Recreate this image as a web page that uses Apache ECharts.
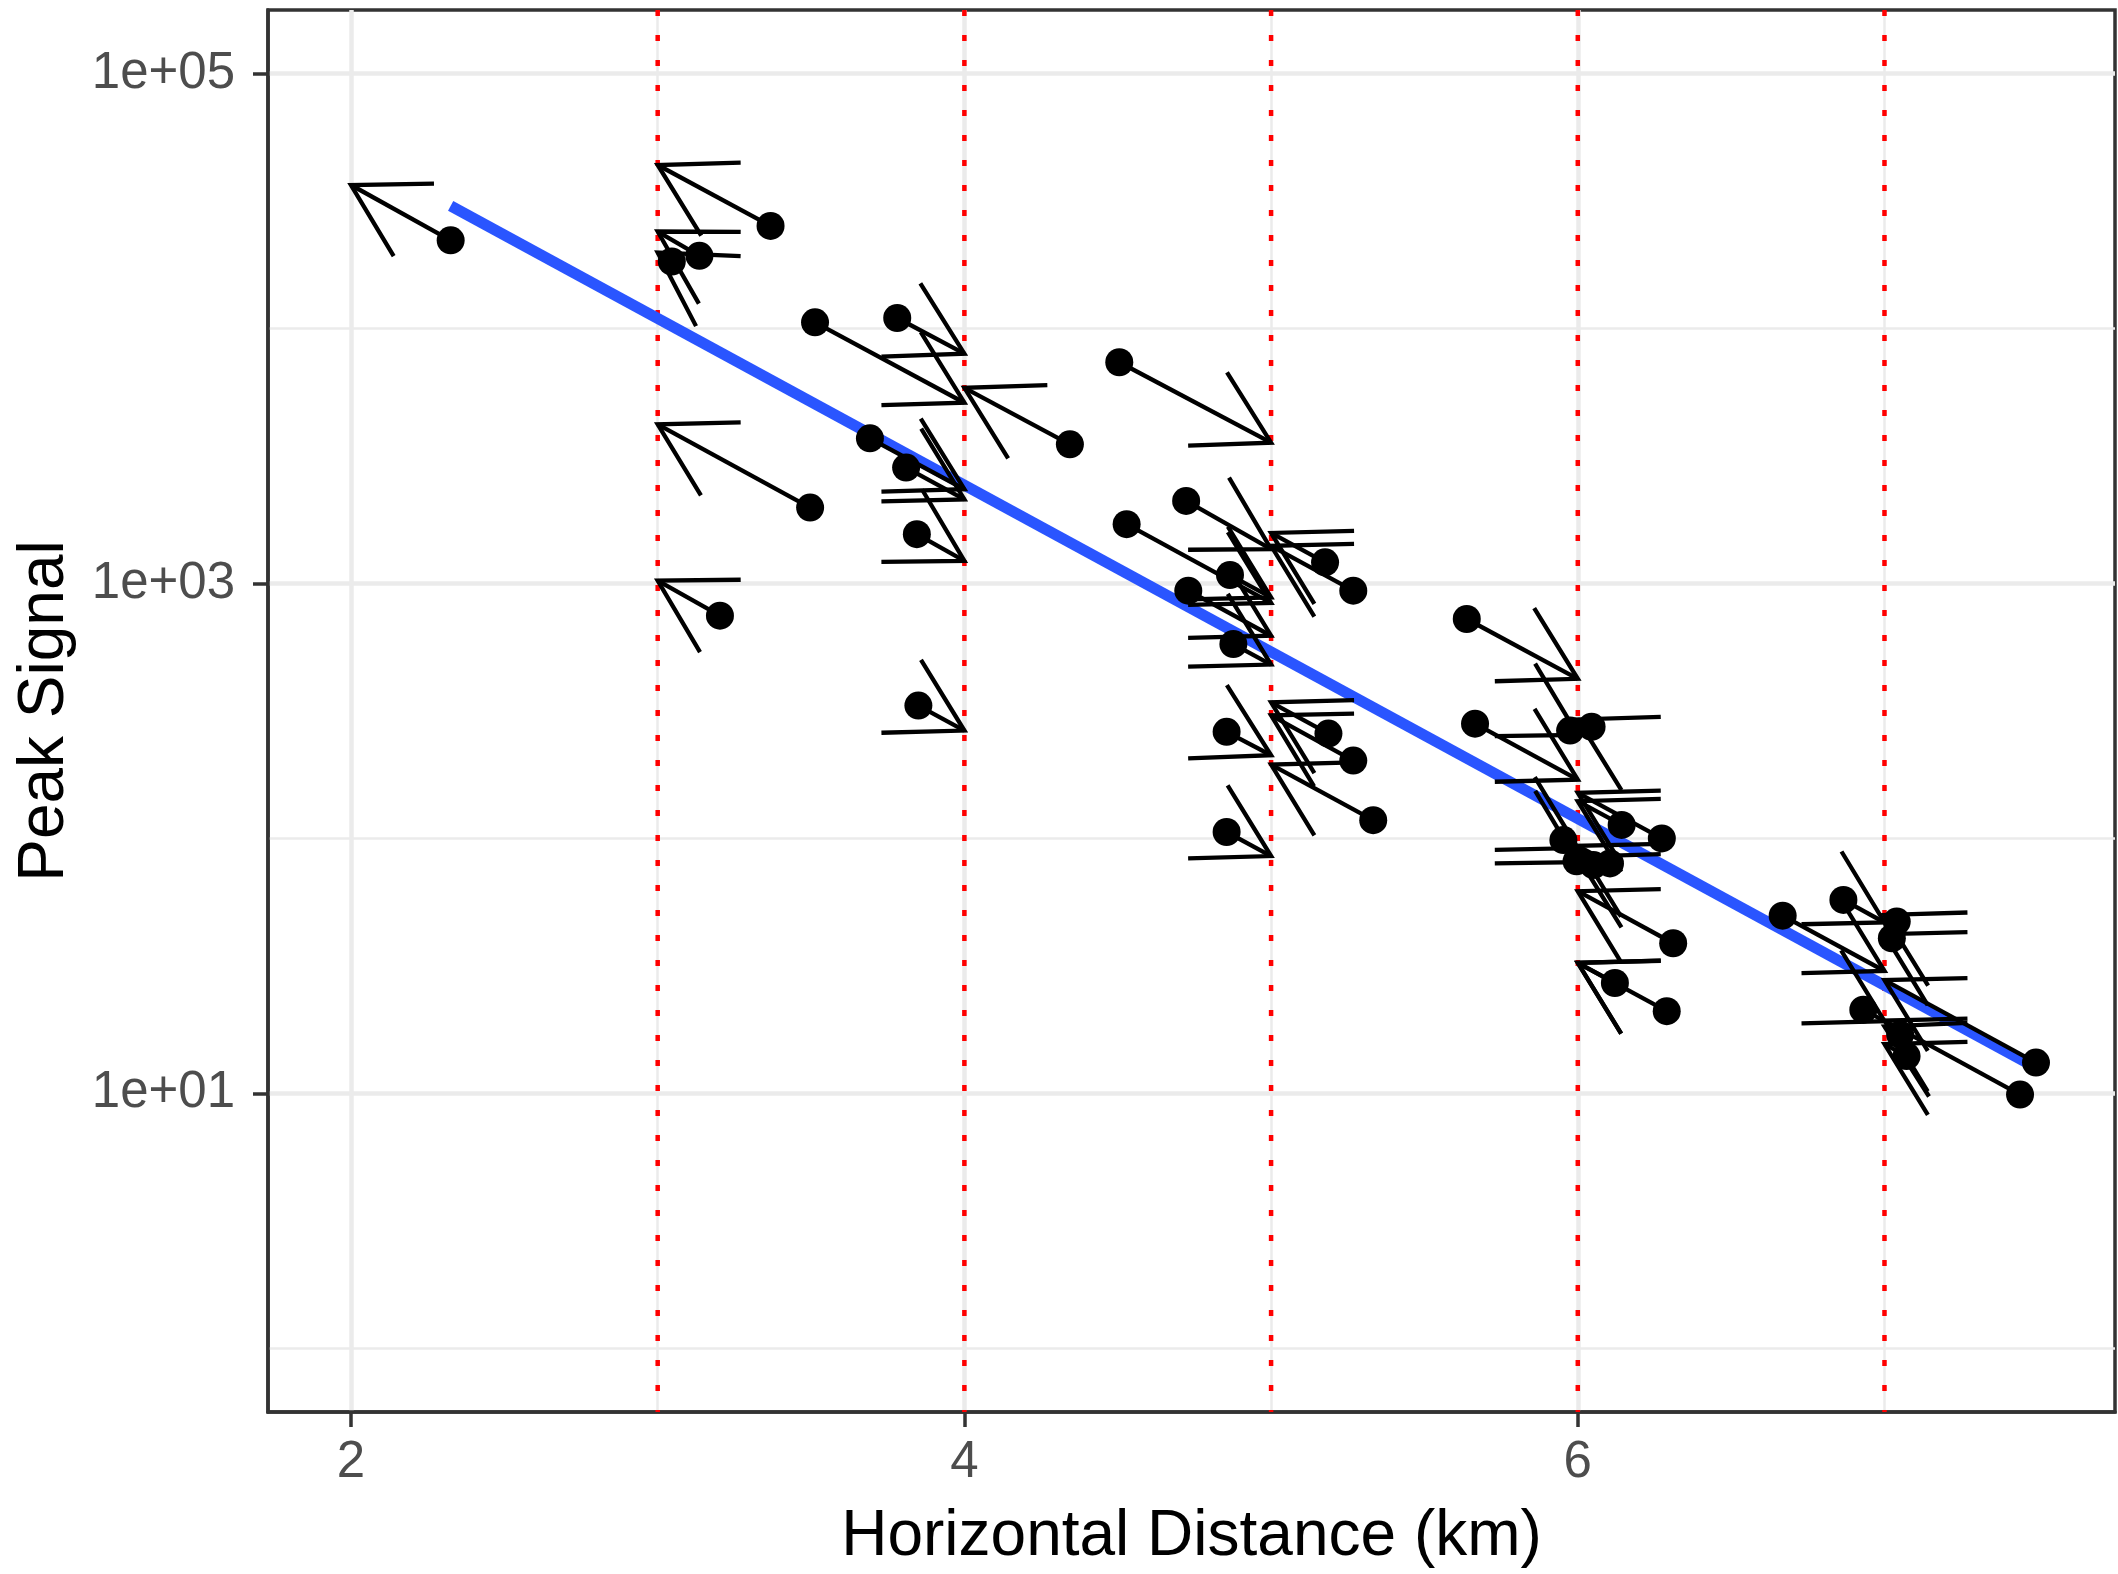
<!DOCTYPE html>
<html>
<head>
<meta charset="utf-8">
<title>Peak Signal vs Horizontal Distance</title>
<script src="https://cdn.jsdelivr.net/npm/echarts@6/dist/echarts.min.js"></script>
<style>
  html, body { margin: 0; padding: 0; background: #ffffff; }
  #chart { width: 2118px; height: 1574px; }
</style>
</head>
<body>
<div id="chart"></div>
<script>
// Station measurements: horizontal distance (km) and peak signal
const dist = [
  2.325,
  3.368, 3.136, 3.046, 3.497, 3.203,
  3.513, 3.781, 4.344, 3.692, 3.810, 3.845, 3.850,
  4.505, 4.723, 4.529, 4.866, 4.730, 5.176, 5.268, 4.877, 4.855, 5.187, 5.268, 5.333, 4.855,
  5.638, 5.665, 5.975, 6.045, 6.143, 6.274, 5.953, 5.996, 6.051, 6.105, 6.311, 6.121, 6.290,
  6.668, 6.866, 7.040, 7.024, 6.931, 7.051, 7.072, 7.494, 7.442
];
const peak = [
  22200,
  25300, 19300, 18340, 1987, 748,
  10590, 11010, 3516, 3711, 2850, 1562, 332,
  7380, 2109, 1710, 1080, 938, 1211, 938, 579, 262, 258, 202, 118, 106,
  726, 282, 265, 274, 113, 100, 98.5, 81.3, 78.6, 79.8, 38.8, 27.1, 21.0,
  49.8, 57.4, 47.2, 40.6, 21.3, 17.0, 14.0, 13.2, 9.89
];
// Reference distance each measurement is carried to, and the adjusted peak there
const refDist = [
  2,
  3, 3, 3, 3, 3,
  4, 4, 4, 4, 4, 4, 4,
  5, 5, 5, 5, 5, 5, 5, 5, 5, 5, 5, 5, 5,
  6, 6, 6, 6, 6, 6, 6, 6, 6, 6, 6, 6, 6,
  7, 7, 7, 7, 7, 7, 7, 7, 7
];
const refPeak = [
  36600,
  43850, 24040, 19890, 4210, 1026,
  5120, 7980, 5860, 2344, 2138, 1227, 265,
  3570, 1365, 840, 882, 624, 1579, 1406, 481, 212, 342, 304, 195, 85.3,
  423, 170, 255, 293, 140, 151, 91.7, 80.8, 84.8, 93.5, 62.1, 32.5, 32.5,
  30.2, 46.8, 50.1, 42.1, 19.2, 18.3, 15.6, 27.8, 19.3
];
// Fitted attenuation line (end points)
const fitDist = [2.325, 7.494];
const fitPeak = [30300, 12.6];
// Reference distances marked with dotted lines
const refLines = [3, 4, 5, 6, 7];
// Axis ranges and ticks
const xRange = [1.7294, 7.7516];
const yRange = [0.5623, 177828];
const xTickValues = [2, 4, 6];
const xTickLabels = ['2', '4', '6'];
const xMinorValues = [3, 5, 7];
const yTickValues = [10, 1000, 100000];
const yTickLabels = ['1e+01', '1e+03', '1e+05'];
const yMinorValues = [1, 100, 10000];

const FONT = '"Liberation Sans", Arial, Helvetica, sans-serif';
const INK = '#333333';
const GRID_COLOR = '#EBEBEB';

function lookupLabel(values, labels, v) {
  for (let i = 0; i < values.length; i++) {
    if (Math.abs(values[i] - v) <= Math.abs(values[i]) * 1e-6 + 1e-9) return labels[i];
  }
  return '';
}

const arrowData = dist.map((d, i) => [d, peak[i], refDist[i], refPeak[i]]);
const pointData = dist.map((d, i) => [d, peak[i]]);
const fitData = fitDist.map((d, i) => [d, fitPeak[i]]);
const refLineData = refLines.map(v => [v, yRange[0], yRange[1]]);

// Segment from each measurement to its reference distance, with an open head
function renderArrow(params, api) {
  const p0 = api.coord([api.value(0), api.value(1)]);
  const p1 = api.coord([api.value(2), api.value(3)]);
  const ang = Math.atan2(p0[1] - p1[1], p0[0] - p1[0]);
  const len = 83, spread = Math.PI / 6;
  const h1 = [p1[0] + len * Math.cos(ang + spread), p1[1] + len * Math.sin(ang + spread)];
  const h2 = [p1[0] + len * Math.cos(ang - spread), p1[1] + len * Math.sin(ang - spread)];
  const style = { stroke: '#000000', lineWidth: 4.3, fill: null, lineCap: 'butt', lineJoin: 'miter', miterLimit: 10 };
  return {
    type: 'group',
    children: [
      { type: 'line', shape: { x1: p0[0], y1: p0[1], x2: p1[0], y2: p1[1] }, style: style },
      { type: 'polyline', shape: { points: [h1, p1, h2] }, style: style }
    ]
  };
}

// Dotted vertical line spanning the panel at a reference distance
function renderRefLine(params, api) {
  const top = api.coord([api.value(0), api.value(2)]);
  const bottom = api.coord([api.value(0), api.value(1)]);
  return {
    type: 'line',
    shape: { x1: top[0], y1: top[1], x2: bottom[0], y2: bottom[1] },
    style: { stroke: '#FF0000', lineWidth: 4.5, lineDash: [6, 19], lineCap: 'butt' }
  };
}

const labelStyle = { fontSize: 51, color: '#4D4D4D', fontFamily: FONT };
const nameStyle = { fontSize: 64, color: '#000000', fontFamily: FONT };

const option = {
  animation: false,
  backgroundColor: '#ffffff',
  textStyle: { fontFamily: FONT },
  grid: {
    left: 268, right: 3, top: 10, bottom: 158,
    show: true, backgroundColor: '#ffffff', borderColor: INK, borderWidth: 3.5
  },
  xAxis: [
    {
      type: 'value', min: xRange[0], max: xRange[1], position: 'bottom',
      axisLine: { show: true, onZero: false, lineStyle: { color: INK, width: 3.5 } },
      axisTick: { show: true, length: 15, customValues: xTickValues, lineStyle: { color: INK, width: 3.5 } },
      axisLabel: Object.assign({
        customValues: xTickValues, margin: 25,
        formatter: v => lookupLabel(xTickValues, xTickLabels, v)
      }, labelStyle),
      splitLine: { show: true, lineStyle: { color: GRID_COLOR, width: 4.5 } },
      name: 'Horizontal Distance (km)', nameLocation: 'middle', nameGap: 93,
      nameTextStyle: nameStyle
    },
    {
      type: 'value', min: xRange[0], max: xRange[1], position: 'bottom',
      axisLine: { show: false },
      axisTick: { show: false, customValues: xMinorValues },
      axisLabel: { show: false },
      splitLine: { show: true, lineStyle: { color: GRID_COLOR, width: 2.5 } }
    }
  ],
  yAxis: [
    {
      type: 'log', logBase: 10, min: yRange[0], max: yRange[1], position: 'left',
      axisLine: { show: true, onZero: false, lineStyle: { color: INK, width: 3.5 } },
      axisTick: { show: true, length: 15, customValues: yTickValues, lineStyle: { color: INK, width: 3.5 } },
      axisLabel: Object.assign({
        customValues: yTickValues, margin: 33,
        formatter: v => lookupLabel(yTickValues, yTickLabels, v)
      }, labelStyle),
      splitLine: { show: true, lineStyle: { color: GRID_COLOR, width: 4.5 } },
      name: 'Peak Signal', nameLocation: 'middle', nameGap: 191,
      nameTextStyle: nameStyle
    },
    {
      type: 'log', logBase: 10, min: yRange[0], max: yRange[1], position: 'left',
      axisLine: { show: false },
      axisTick: { show: false, customValues: yMinorValues },
      axisLabel: { show: false },
      splitLine: { show: true, lineStyle: { color: GRID_COLOR, width: 2.5 } }
    }
  ],
  series: [
    {
      name: 'reference distances',
      type: 'custom', xAxisIndex: 0, yAxisIndex: 0, z: 1, silent: true,
      renderItem: renderRefLine,
      encode: { x: 0, y: [1, 2] },
      data: refLineData
    },
    {
      name: 'fit',
      type: 'line', xAxisIndex: 0, yAxisIndex: 0, z: 2, silent: true,
      showSymbol: false, symbol: 'none',
      lineStyle: { color: '#2A55FF', width: 11, cap: 'butt' },
      data: fitData
    },
    {
      name: 'adjustment',
      type: 'custom', xAxisIndex: 0, yAxisIndex: 0, z: 3, silent: true,
      renderItem: renderArrow,
      encode: { x: [0, 2], y: [1, 3] },
      data: arrowData
    },
    {
      name: 'measurements',
      type: 'scatter', xAxisIndex: 0, yAxisIndex: 0, z: 4, silent: true,
      symbol: 'circle', symbolSize: 28,
      itemStyle: { color: '#000000', opacity: 1 },
      data: pointData
    }
  ]
};

const chart = echarts.init(document.getElementById('chart'), null, { renderer: 'canvas' });
chart.setOption(option);
</script>
</body>
</html>
